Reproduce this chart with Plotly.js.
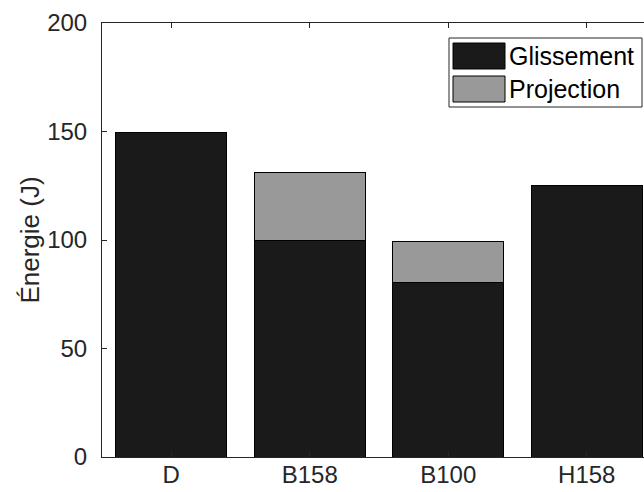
<!DOCTYPE html>
<html>
<head>
<meta charset="utf-8">
<script src="https://cdn.plot.ly/plotly-3.0.1.min.js"></script>
<style>
html,body{margin:0;padding:0;overflow:hidden;background:#fff;}
#chart{width:656px;height:492px;}
</style>
</head>
<body>
<div id="chart"></div>
<script>
const categories = ["D", "B158", "B100", "H158"];
const glissement = [149.5, 100, 80.5, 125];
const projection = [0, 31, 19, 0];
const seriesNames = ["Glissement", "Projection"];
const yTicks = [0, 50, 100, 150, 200];

const colGl = "#1a1a1a";
const colPr = "#999999";
const axisCol = "#262626";
const FONT = "Liberation Sans, Arial, Helvetica, sans-serif";

// plot area in pixels
const L = 102, R = 656, T = 23, B = 457, W = 656, H = 492;
const px = x => (x - L) / (R - L);
const py = y => (B - y) / (B - T);

const traces = [
  {type: "bar", name: seriesNames[0], x: categories, y: glissement,
   marker: {color: colGl, line: {color: "#000", width: 1}}, width: 0.8,
   hoverinfo: "x+y"},
  {type: "bar", name: seriesNames[1], x: categories, y: projection,
   marker: {color: colPr, line: {color: "#000", width: 1}}, width: 0.8,
   hoverinfo: "x+y"}
];

// custom MATLAB-like legend
const shapes = [
  {type: "rect", xref: "paper", yref: "paper", x0: px(449), x1: px(642), y0: py(107), y1: py(38),
   fillcolor: "#fff", line: {color: axisCol, width: 1}, layer: "above"},
  {type: "rect", xref: "paper", yref: "paper", x0: px(453), x1: px(505), y0: py(69), y1: py(43),
   fillcolor: colGl, line: {color: "#000", width: 1}, layer: "above"},
  {type: "rect", xref: "paper", yref: "paper", x0: px(453), x1: px(505), y0: py(102), y1: py(76),
   fillcolor: colPr, line: {color: "#000", width: 1}, layer: "above"}
];
const annotations = [
  {xref: "paper", yref: "paper", x: px(507), y: py(56), text: seriesNames[0], showarrow: false,
   xanchor: "left", yanchor: "middle", font: {family: FONT, size: 25, color: "#000"}},
  {xref: "paper", yref: "paper", x: px(507), y: py(89), text: seriesNames[1], showarrow: false,
   xanchor: "left", yanchor: "middle", font: {family: FONT, size: 25, color: "#000"}}
];

const layout = {
  width: W, height: H,
  margin: {l: L, r: W - R, t: T, b: H - B, pad: 0},
  paper_bgcolor: "#fff", plot_bgcolor: "#fff",
  barmode: "stack",
  showlegend: false,
  font: {family: FONT, size: 24, color: axisCol},
  xaxis: {
    type: "category", range: [-0.5, 3.5], automargin: false,
    showline: true, linecolor: axisCol, linewidth: 1, mirror: "ticks",
    ticks: "inside", ticklen: 5, tickcolor: axisCol, tickwidth: 1,
    ticklabelstandoff: -4,
    showgrid: false, zeroline: false,
    tickfont: {family: FONT, size: 24, color: axisCol}
  },
  yaxis: {
    range: [0, 200], automargin: false,
    tickvals: yTicks, ticktext: yTicks.map(String),
    showline: true, linecolor: axisCol, linewidth: 1, mirror: "ticks",
    ticks: "inside", ticklen: 5, tickcolor: axisCol, tickwidth: 1,
    ticklabelstandoff: 9,
    showgrid: false, zeroline: false,
    tickfont: {family: FONT, size: 24, color: axisCol},
    title: {text: "Énergie (J)", font: {family: FONT, size: 26, color: axisCol}}
  },
  shapes: shapes,
  annotations: annotations
};

Plotly.newPlot("chart", traces, layout, {displayModeBar: false, staticPlot: true});
</script>
</body>
</html>
